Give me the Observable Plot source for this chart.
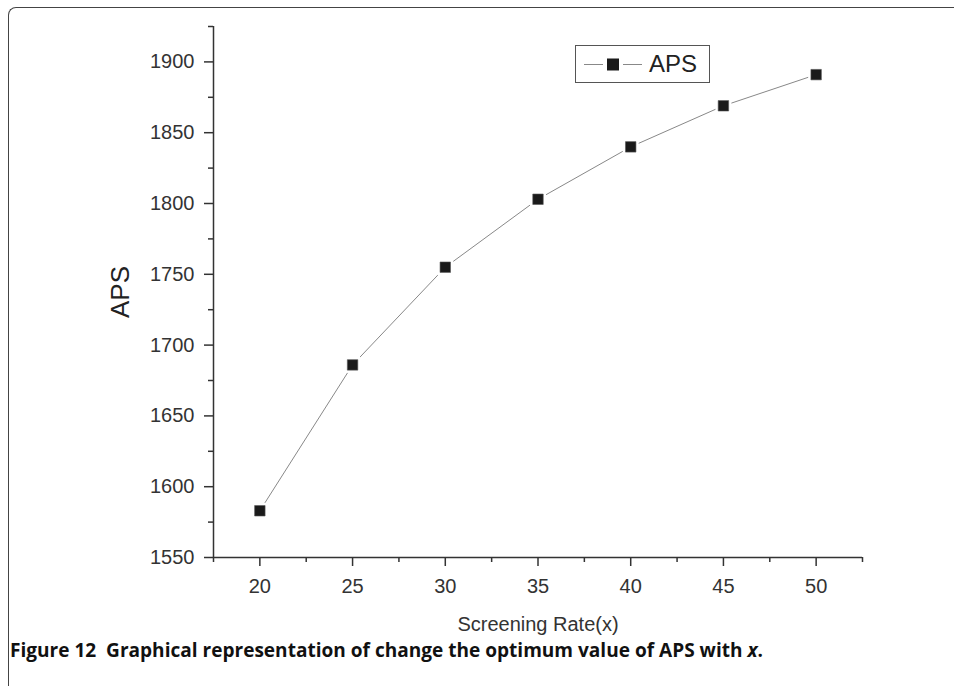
<!DOCTYPE html>
<html><head><meta charset="utf-8">
<script src="https://cdn.jsdelivr.net/npm/d3@7"></script>
<script src="https://cdn.jsdelivr.net/npm/@observablehq/plot@0.6"></script>
<style>
body{margin:0;background:#fff;}
#wrap{position:relative;width:954px;height:686px;overflow:hidden;font-family:"Liberation Sans",Arial,sans-serif;}
#frame{position:absolute;left:8px;top:7px;width:1000px;height:720px;border-left:1.5px solid #444;border-top:1.5px solid #444;border-top-left-radius:8px;}
#chart{position:absolute;left:0;top:0;}
#legend{position:absolute;left:575px;top:45px;width:133px;height:36px;border:1.5px solid #555;background:#fff;}
#legend svg{position:absolute;left:0;top:0;}
#legend span{position:absolute;left:73px;top:3px;font-size:24px;color:#222;line-height:30px;}
#caption{position:absolute;left:10px;top:636px;font-family:"Open Sans",sans-serif;font-weight:700;font-size:19.5px;color:#111;white-space:nowrap;transform-origin:left top;}
</style></head><body>
<div id="wrap">
  <div id="frame"></div>
  <div id="chart"></div>
  <div id="legend">
    <svg width="133" height="36">
      <line x1="8" x2="27" y1="18.5" y2="18.5" stroke="#888" stroke-width="1"/>
      <rect x="31" y="12.5" width="12" height="12" fill="#1a1a1a"/>
      <line x1="47" x2="66" y1="18.5" y2="18.5" stroke="#888" stroke-width="1"/>
    </svg>
    <span>APS</span>
  </div>
  <div id="caption">Figure 12&nbsp; Graphical representation of change the optimum value of APS with <i>x</i>.</div>
</div>
<script>
const screeningRate = [20, 25, 30, 35, 40, 45, 50];
const apsValues = [1583, 1686, 1755, 1803, 1840, 1869, 1891];
const yMajorTicks = [1550, 1600, 1650, 1700, 1750, 1800, 1850, 1900];
const yMinorTicks = [1575, 1625, 1675, 1725, 1775, 1825, 1875, 1925];
const xMajorTicks = [20, 25, 30, 35, 40, 45, 50];
const xMinorTicks = [17.5, 22.5, 27.5, 32.5, 37.5, 42.5, 47.5, 52.5];
const xTitle = "Screening Rate(x)";
const yTitle = "APS";

const data = screeningRate.map((x, i) => ({x, aps: apsValues[i]}));

const chart = Plot.plot({
  width: 954, height: 640,
  marginLeft: 213, marginRight: 92, marginTop: 26, marginBottom: 83,
  x: {domain: [17.5, 52.5]},
  y: {domain: [1550, 1925]},
  style: {fontFamily: "'Liberation Sans', Arial, sans-serif", color: "#333", background: "transparent"},
  marks: [
    Plot.ruleX([17.5], {stroke: "#333", strokeWidth: 1.5}),
    Plot.ruleY([1550], {stroke: "#333", strokeWidth: 1.5}),
    Plot.axisY({ticks: yMajorTicks, tickSize: 9, tickPadding: 10, tickFormat: d => String(d), fontSize: 20, label: null, stroke: "#333", strokeWidth: 1.5, fill: "#333"}),
    Plot.axisY({ticks: yMinorTicks, tickSize: 5, tickFormat: () => "", label: null, stroke: "#333", strokeWidth: 1.5}),
    Plot.axisX({ticks: xMajorTicks, tickSize: 9, tickPadding: 12, tickFormat: d => String(d), fontSize: 20, label: null, stroke: "#333", strokeWidth: 1.5, fill: "#333"}),
    Plot.axisX({ticks: xMinorTicks, tickSize: 5, tickFormat: () => "", label: null, stroke: "#333", strokeWidth: 1.5}),
    Plot.text([yTitle], {text: d => d, frameAnchor: "left", dx: -93, rotate: -90, fontSize: 26, fill: "#222", textAnchor: "middle", lineAnchor: "middle"}),
    Plot.text([xTitle], {text: d => d, frameAnchor: "bottom", dy: 67, fontSize: 20, fill: "#333", textAnchor: "middle", lineAnchor: "middle"}),
    Plot.line(data, {x: "x", y: "aps", stroke: "#888", strokeWidth: 1}),
    Plot.dot(data, {x: "x", y: "aps", symbol: "square", r: 9, fill: "white", stroke: "none"}),
    Plot.dot(data, {x: "x", y: "aps", symbol: "square", r: 5.9, fill: "#1a1a1a", stroke: "#555", strokeWidth: 0.6})
  ]
});
document.getElementById("chart").appendChild(chart);

const cap = document.getElementById("caption");
const w = cap.getBoundingClientRect().width;
cap.style.transform = `scaleX(${753 / w})`;
</script>
</body></html>
